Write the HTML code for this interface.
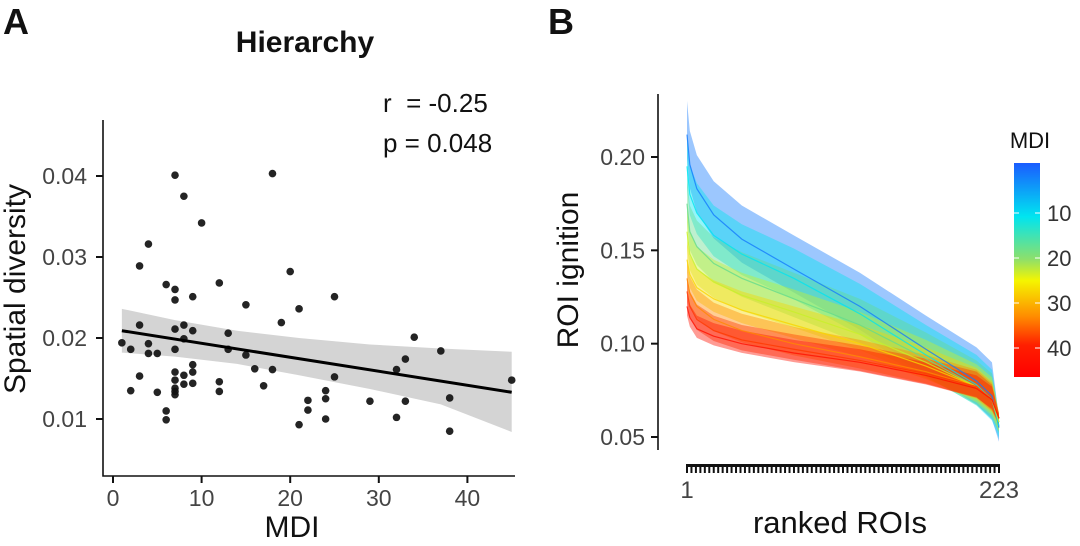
<!DOCTYPE html>
<html><head><meta charset="utf-8"><style>
body{margin:0;background:#fff;}
svg{display:block;font-family:"Liberation Sans",Arial,sans-serif;}
</style></head><body>
<svg id="fig" width="1080" height="546" viewBox="0 0 1080 546" xmlns="http://www.w3.org/2000/svg">
<defs>
<linearGradient id="cbar" x1="0" y1="0" x2="0" y2="1">
<stop offset="0" stop-color="#1a5cff"/><stop offset="0.25" stop-color="#00e5f0"/>
<stop offset="0.45" stop-color="#8ee06a"/><stop offset="0.55" stop-color="#f5f500"/>
<stop offset="0.72" stop-color="#ff8a00"/><stop offset="0.85" stop-color="#ff2000"/>
<stop offset="1" stop-color="#ff0000"/></linearGradient>
</defs>
<text x="3" y="34" font-size="36" font-weight="bold" fill="#111">A</text>
<text x="305" y="52" font-size="30" font-weight="bold" text-anchor="middle" fill="#111">Hierarchy</text>
<text x="383" y="112" font-size="26" fill="#111" xml:space="preserve">r&#160; = -0.25</text>
<text x="383" y="152" font-size="26" fill="#111">p = 0.048</text>
<text transform="translate(25,289) rotate(-90)" font-size="30" text-anchor="middle" fill="#111">Spatial diversity</text>
<text x="292" y="537" font-size="30" text-anchor="middle" fill="#111">MDI</text>
<g id="ga"></g>
<text x="548" y="34" font-size="36" font-weight="bold" fill="#111">B</text>
<text transform="translate(578,270) rotate(-90)" font-size="30" text-anchor="middle" fill="#111">ROI ignition</text>
<text x="840" y="533" font-size="31" text-anchor="middle" fill="#111">ranked ROIs</text>
<g id="gb"></g>
<text x="1030" y="148" font-size="22" text-anchor="middle" fill="#111">MDI</text>
<rect x="1014" y="163" width="26" height="214" fill="url(#cbar)"/>
<g id="cb"></g>
</svg>
<script>
// Panel A data
const mdiVals=[7,18,8,10,4,3,20,6,12,7,7,9,25,15,21,19,3,7,8,9,13,34,1,4,2,7,4,5,13,8,37,15,33,9,16,18,32,3,7,8,9,25,45,7,12,8,9,17,2,5,7,7,7,12,24,24,22,29,33,38,22,6,6,24,32,21,38];
const divVals=[0.0401,0.0403,0.0375,0.0342,0.0316,0.0289,0.0282,0.0266,0.0268,0.0260,0.0247,0.0251,0.0251,0.0241,0.0236,0.0219,0.0216,0.0211,0.0216,0.0209,0.0206,0.0201,0.0194,0.0193,0.0186,0.0186,0.0181,0.0181,0.0186,0.0199,0.0184,0.0179,0.0174,0.0167,0.0162,0.0161,0.0161,0.0153,0.0158,0.0154,0.0158,0.0152,0.0148,0.0148,0.0146,0.0143,0.0144,0.0141,0.0135,0.0133,0.0138,0.0134,0.0130,0.0134,0.0135,0.0125,0.0123,0.0122,0.0122,0.0126,0.0111,0.0110,0.0099,0.0100,0.0102,0.0093,0.0085];
const fitX=[1,45];
const fitY=[0.0209,0.0133];
const bandX=[1,7,14,21,29,37,45];
const bandLo=[0.0182,0.0177,0.0168,0.0154,0.0137,0.0118,0.0084];
const bandHi=[0.0236,0.0222,0.0209,0.0200,0.0192,0.0187,0.0183];
const xTicksA=[0,10,20,30,40];
const yTicksA=[0.01,0.02,0.03,0.04];
// Panel B data
const ranks=[1,3,8,20,40,77,124,171,207,218,223];
const seriesMDI=[3,10,15,20,25,30,35,42];
const seriesVals=[
[0.212,0.196,0.183,0.169,0.156,0.140,0.120,0.097,0.080,0.072,0.055],
[0.195,0.180,0.170,0.158,0.148,0.135,0.116,0.094,0.078,0.070,0.056],
[0.175,0.160,0.152,0.143,0.135,0.124,0.110,0.092,0.077,0.070,0.058],
[0.160,0.148,0.140,0.133,0.126,0.117,0.105,0.090,0.077,0.070,0.058],
[0.145,0.137,0.130,0.124,0.118,0.110,0.100,0.088,0.077,0.070,0.060],
[0.135,0.127,0.120,0.113,0.107,0.100,0.093,0.085,0.077,0.070,0.060],
[0.128,0.120,0.113,0.107,0.102,0.097,0.091,0.084,0.077,0.070,0.060],
[0.120,0.114,0.108,0.104,0.100,0.095,0.090,0.083,0.076,0.070,0.060]];
const seriesHW=[0.018,0.016,0.014,0.012,0.010,0.009,0.008,0.007];
const yTicksB=[0.05,0.10,0.15,0.20];
const cbTicks=[10,20,30,40];

const NS="http://www.w3.org/2000/svg";
function mk(p,t,a){const e=document.createElementNS(NS,t);for(const k in a)e.setAttribute(k,a[k]);p.appendChild(e);return e;}
const ga=document.getElementById('ga');
const xA=v=>113+v*8.86, yA=v=>176+(0.04-v)*8100;
let bp=bandX.map((x,i)=>xA(x)+','+yA(bandHi[i])).concat(bandX.slice().reverse().map((x,j)=>{const i=bandX.length-1-j;return xA(x)+','+yA(bandLo[i]);}));
let band=mk(ga,'polygon',{points:bp.join(' '),fill:'#d4d4d4'});


mdiVals.forEach((m,i)=>{const c=mk(ga,'circle',{cx:xA(m),cy:yA(divVals[i]),r:3.8,fill:'#111','fill-opacity':0.92});

});
let fl=mk(ga,'line',{x1:xA(fitX[0]),y1:yA(fitY[0]),x2:xA(fitX[1]),y2:yA(fitY[1]),stroke:'#000','stroke-width':3});


let ax=mk(ga,'path',{d:'M103,120V476H515',fill:'none',stroke:'#111','stroke-width':1.6});


xTicksA.forEach(t=>{mk(ga,'line',{x1:xA(t),x2:xA(t),y1:476,y2:483,stroke:'#111','stroke-width':2});
const tx=mk(ga,'text',{x:xA(t),y:506,'font-size':23,'text-anchor':'middle',fill:'#444'});tx.textContent=t;

});
yTicksA.forEach(t=>{mk(ga,'line',{x1:96,x2:103,y1:yA(t),y2:yA(t),stroke:'#111','stroke-width':2});
const tx=mk(ga,'text',{x:87,y:yA(t)+8,'font-size':23,'text-anchor':'end',fill:'#444'});tx.textContent=t.toFixed(2);

});
// Panel B
const gb=document.getElementById('gb');
const xB=r=>687+(r-1)*312/222, yB=v=>157+(0.20-v)*1866.7;
function col(m){const s=[[1,[26,92,255]],[10,[0,229,240]],[15,[100,220,140]],[20,[200,240,40]],[23,[245,245,0]],[30,[255,138,0]],[36,[255,40,0]],[46,[255,0,0]]];
for(let i=0;i<s.length-1;i++){if(m<=s[i+1][0]){const f=(m-s[i][0])/(s[i+1][0]-s[i][0]);const c=s[i][1].map((v,k)=>Math.round(v+(s[i+1][1][k]-v)*f));return 'rgb('+c.join(',')+')';}}return 'rgb(255,0,0)';}
seriesMDI.forEach((m,si)=>{const v=seriesVals[si],hw=seriesHW[si];
const up=ranks.map((r,i)=>xB(r)+','+yB(v[i]+hw*(i<ranks.length-1?1:0.3)));
const lo=ranks.slice().reverse().map((r,j)=>{const i=ranks.length-1-j;return xB(r)+','+yB(v[i]-hw*0.7*(i<ranks.length-1?1:0.6));});
const p=mk(gb,'polygon',{points:up.concat(lo).join(' '),fill:col(m),'fill-opacity':0.42});

});
seriesMDI.forEach((m,si)=>{const v=seriesVals[si];
const l=mk(gb,'polyline',{points:ranks.map((r,i)=>xB(r)+','+yB(v[i])).join(' '),fill:'none',stroke:col(m),'stroke-width':1.2,'stroke-opacity':0.8});

});
let axb=mk(gb,'line',{x1:658,x2:658,y1:94,y2:450,stroke:'#111','stroke-width':1.6});


yTicksB.forEach(t=>{mk(gb,'line',{x1:651,x2:658,y1:yB(t),y2:yB(t),stroke:'#111','stroke-width':2});
const tx=mk(gb,'text',{x:645,y:yB(t)+8,'font-size':23,'text-anchor':'end',fill:'#444'});tx.textContent=t.toFixed(2);

});
let bar=mk(gb,'rect',{x:686,y:464,width:314,height:3,fill:'#111'});


for(let i=0;i<=70;i++){mk(gb,'line',{x1:687+i*312/70,x2:687+i*312/70,y1:464,y2:473,stroke:'#111','stroke-width':2});}
[[1,'1'],[223,'223']].forEach(([r,s])=>{const tx=mk(gb,'text',{x:xB(r),y:498,'font-size':24,'text-anchor':'middle',fill:'#444'});tx.textContent=s;

});
const cb=document.getElementById('cb');
const yC=m=>213+(m-10)*4.5;
cbTicks.forEach(t=>{mk(cb,'line',{x1:1014,x2:1019,y1:yC(t),y2:yC(t),stroke:'#fff','stroke-width':1});mk(cb,'line',{x1:1035,x2:1040,y1:yC(t),y2:yC(t),stroke:'#fff','stroke-width':1});
const tx=mk(cb,'text',{x:1047,y:yC(t)+8,'font-size':22,fill:'#333'});tx.textContent=t;

});
</script>
</body></html>
